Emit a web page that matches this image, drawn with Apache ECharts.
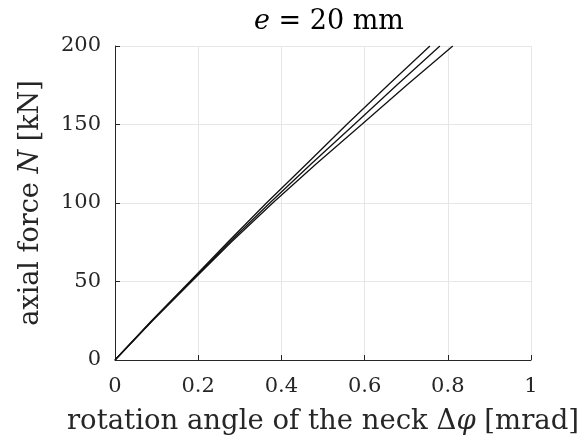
<!DOCTYPE html>
<html>
<head>
<meta charset="utf-8">
<script src="https://cdn.jsdelivr.net/npm/echarts@6/dist/echarts.min.js"></script>
<style>
  html, body { margin: 0; padding: 0; background: #fff; }
  #chart { width: 584px; height: 446px; }
</style>
</head>
<body>
<div id="chart"></div>
<script>
// Axial force levels (kN) at which the rotation was recorded
const forceLevels = [0, 25, 50, 75, 100, 125, 150, 175, 200];
// Rotation angle of the neck (mrad) for the three specimens
const rotationA = [0, 0.088, 0.180, 0.271, 0.364, 0.461, 0.557, 0.656, 0.757];
const rotationB = [0, 0.089, 0.182, 0.275, 0.372, 0.472, 0.575, 0.677, 0.781];
const rotationC = [0, 0.090, 0.184, 0.279, 0.379, 0.484, 0.593, 0.701, 0.812];

const xTicks = [0, 0.2, 0.4, 0.6, 0.8, 1];
const yTicks = [0, 50, 100, 150, 200];

const FONT = '"DejaVu Serif", "Liberation Serif", serif';
const TXT = '#262626';

function pairs(xs) {
  return xs.map((x, i) => [x, forceLevels[i]]);
}

function curve(xs) {
  return {
    type: 'line',
    data: pairs(xs),
    showSymbol: false,
    symbol: 'none',
    lineStyle: { color: '#111', width: 1.3 },
    animation: false
  };
}

const chart = echarts.init(document.getElementById('chart'), null, { renderer: 'canvas' });
chart.setOption({
  backgroundColor: '#fff',
  animation: false,
  title: {
    text: '{i|e} = 20 mm',
    left: 324,
    textAlign: 'center',
    top: 3,
    textStyle: {
      fontFamily: FONT, fontSize: 27, color: '#000', fontWeight: 'normal',
      rich: { i: { fontFamily: FONT, fontSize: 27, fontStyle: 'italic', color: '#000' } }
    }
  },
  grid: { left: 115, right: 53, top: 46, bottom: 86, containLabel: false },
  xAxis: {
    type: 'value',
    min: xTicks[0], max: xTicks[xTicks.length - 1], interval: 0.2,
    name: 'rotation angle of the neck Δ{i|φ} [mrad]',
    nameLocation: 'middle',
    nameGap: 48,
    nameTextStyle: {
      fontFamily: FONT, fontSize: 27.5, color: TXT,
      rich: { i: { fontFamily: FONT, fontSize: 27.5, fontStyle: 'italic', color: TXT } }
    },
    axisLine: { show: true, lineStyle: { color: TXT, width: 1 } },
    axisTick: { show: true, inside: true, length: 5, lineStyle: { color: TXT } },
    axisLabel: {
      fontFamily: FONT, fontSize: 21, color: TXT, margin: 16,
      formatter: v => String(+v.toFixed(1))
    },
    splitLine: { show: true, lineStyle: { color: '#e6e6e6', width: 1 } }
  },
  yAxis: {
    type: 'value',
    min: yTicks[0], max: yTicks[yTicks.length - 1], interval: 50,
    name: 'axial force {i|N} [kN]',
    nameLocation: 'middle',
    nameGap: 71,
    nameTextStyle: {
      fontFamily: FONT, fontSize: 27, color: TXT,
      rich: { i: { fontFamily: FONT, fontSize: 27, fontStyle: 'italic', color: TXT } }
    },
    axisLine: { show: true, lineStyle: { color: TXT, width: 1 } },
    axisTick: { show: true, inside: true, length: 5, lineStyle: { color: TXT } },
    axisLabel: { fontFamily: FONT, fontSize: 21, color: TXT, margin: 14 },
    splitLine: { show: true, lineStyle: { color: '#e6e6e6', width: 1 } }
  },
  series: [curve(rotationA), curve(rotationB), curve(rotationC)]
});
</script>
</body>
</html>
